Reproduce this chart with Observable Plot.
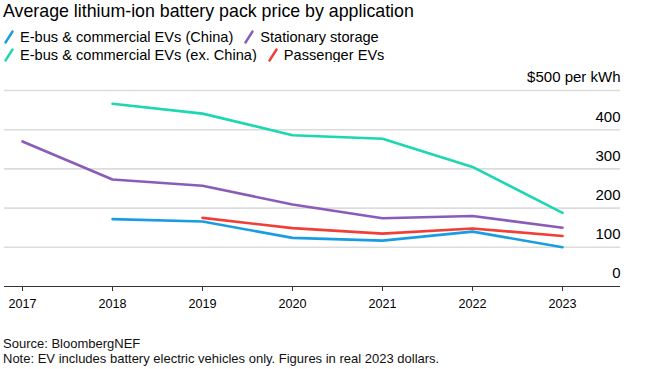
<!DOCTYPE html>
<html>
<head>
<meta charset="utf-8">
<script src="https://cdn.jsdelivr.net/npm/d3@7"></script>
<script src="https://cdn.jsdelivr.net/npm/@observablehq/plot@0.6"></script>
<style>
  body { margin: 0; background: #fff; font-family: "Liberation Sans", Arial, Helvetica, sans-serif; color: #000; }
  #wrap { position: relative; width: 645px; height: 369px; overflow: hidden; }
  #title { position: absolute; left: 3px; top: 0px; font-size: 17.8px; line-height: 22px; white-space: nowrap; }
  .lrow { position: absolute; left: 4px; font-size: 14.6px; line-height: 18px; white-space: nowrap; display: flex; gap: 11px; }
  .litem { display: flex; align-items: center; }
  .litem svg { margin-right: 6px; }
  #chart { position: absolute; left: 0; top: 62px; }
  #caption { position: absolute; left: 3px; top: 336px; font-size: 13px; line-height: 15px; white-space: nowrap; color: #111; }
</style>
</head>
<body>
<div id="wrap">
  <div id="title">Average lithium-ion battery pack price by application</div>
  <div id="legend"></div>
  <div id="chart"></div>
  <div id="caption">Source: BloombergNEF<br>Note: EV includes battery electric vehicles only. Figures in real 2023 dollars.</div>
</div>
<script>
// ---- data ----
const years = [2017, 2018, 2019, 2020, 2021, 2022, 2023];
const seriesNames = [
  "E-bus & commercial EVs (China)",
  "Stationary storage",
  "E-bus & commercial EVs (ex. China)",
  "Passenger EVs"
];
const seriesColors = ["#1a9de0", "#8a5cb9", "#1dd6b2", "#ef3f37"];
const ebusChina   = [null, 172, 166, 124, 117, 140, 100];
const stationary  = [370, 273, 257, 209, 174, 180, 150];
const ebusExChina = [null, 466, 441, 386, 377, 305, 188];
const passenger   = [null, null, 175, 149, 135, 148, 129];
const yTicks = [0, 100, 200, 300, 400, 500];
const yTickLabels = ["0", "100", "200", "300", "400", "$500 per kWh"];

// ---- table ----
const valuesBySeries = [ebusChina, stationary, ebusExChina, passenger];
const drawOrder = [2, 1, 3, 0];
const table = [];
for (const i of drawOrder) {
  valuesBySeries[i].forEach((v, j) => {
    if (v != null) table.push({series: seriesNames[i], year: years[j], value: v});
  });
}

// ---- legend ----
const legend = document.getElementById("legend");
const rows = [[0, 1], [2, 3]];
rows.forEach((r, ri) => {
  const row = document.createElement("div");
  row.className = "lrow";
  row.style.top = (28 + ri * 18) + "px";
  r.forEach((i) => {
    const item = document.createElement("div");
    item.className = "litem";
    item.innerHTML = `<svg width="10" height="14"><line x1="1.5" y1="12.5" x2="8.5" y2="1.5" stroke="${seriesColors[i]}" stroke-width="2.4" stroke-linecap="round"/></svg><span>${seriesNames[i]}</span>`;
    row.appendChild(item);
  });
  legend.appendChild(row);
});

// ---- chart ----
const chart = Plot.plot({
  width: 645,
  height: 250,
  marginTop: 28,
  marginBottom: 26,
  marginLeft: 4,
  marginRight: 25,
  style: { fontFamily: "'Liberation Sans', Arial, Helvetica, sans-serif", fontSize: "13px", color: "#000", background: "#fff" },
  x: { domain: [2016.8, 2023.644], axis: null },
  y: { domain: [0, 500], axis: null },
  color: { domain: seriesNames, range: seriesColors },
  marks: [
    Plot.ruleY(yTicks.filter(d => d > 0), { stroke: "#dcdcdc", strokeWidth: 1.6 }),
    Plot.ruleY([0], { stroke: "#333", strokeWidth: 1 }),
    Plot.axisX(years, { label: null, tickSize: 5, tickPadding: 8, tickFormat: d => String(d), stroke: "#333", fontSize: 12.6, fill: "#000" }),
    Plot.text(yTicks, { y: d => d, text: (d, i) => yTickLabels[i], frameAnchor: "right", textAnchor: "end", dy: -13, fontSize: 15, fill: "#000" }),
    Plot.line(table, { x: "year", y: "value", z: "series", stroke: "series", strokeWidth: 2.6, strokeLinejoin: "round" })
  ]
});
document.getElementById("chart").appendChild(chart);
</script>
</body>
</html>
